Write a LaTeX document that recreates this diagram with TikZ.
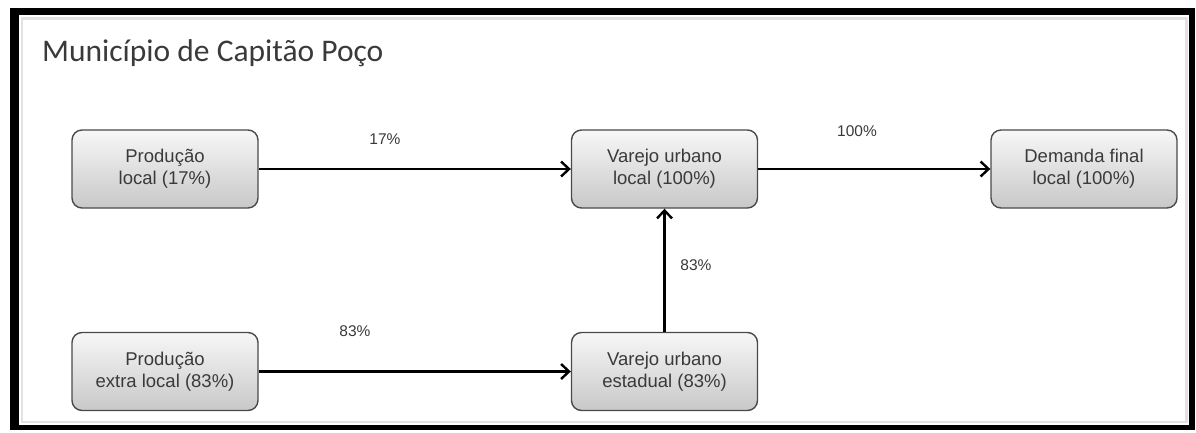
\documentclass[tikz,border=0pt]{standalone}
\usepackage{fontspec}
\setmainfont{Liberation Sans}
\newfontfamily\titlefont{Carlito}
\usetikzlibrary{arrows.meta}

\definecolor{boxedge}{HTML}{4A4A4A}
\definecolor{boxtop}{HTML}{F7F7F7}
\definecolor{boxbottom}{HTML}{C8C8C8}
\definecolor{inktext}{HTML}{3A3A3A}
\definecolor{rimgray}{HTML}{E2E2E2}

\tikzset{
  flowbox/.style={draw=boxedge, line width=1.4pt, rounded corners=10pt,
    top color=boxtop, bottom color=boxbottom,
    minimum width=186pt, minimum height=78pt, inner sep=0pt,
    align=center, text=inktext,
    font=\fontsize{18.5}{22}\selectfont},
  flow/.style={line width=2.6pt, black,
    -{Straight Barb[length=8pt,width=15pt,line width=2.4pt]}},
  share/.style={text=inktext, font=\fontsize{15.5}{17}\selectfont, inner sep=0pt}
}

\begin{document}
\begin{tikzpicture}[x=1pt,y=-1pt]
  \useasboundingbox (0,0) rectangle (1196,432);
  \fill[white] (0,0) rectangle (1196,432);

  % black outer frame with pale inner rim
  \fill[black] (10,8) rectangle (1195,430);
  \fill[white] (19,15) rectangle (1189,425);
  \draw[rimgray, line width=2.5pt] (22,18.5) rectangle (1186.5,422);

  % heading
  \node[anchor=base west, inner sep=0pt, text=inktext,
        font=\titlefont\fontsize{31.5}{34}\selectfont] (title) at (42,61)
        {Município de Capitão Poço};

  % stages of the flow
  \node[flowbox] (pl) at (165,169)   {Produção\\local (17\%)};
  \node[flowbox] (vl) at (664.5,169) {Varejo urbano\\local (100\%)};
  \node[flowbox] (df) at (1084,169)  {Demanda final\\local (100\%)};
  \node[flowbox] (pe) at (165,371.5) {Produção\\extra local (83\%)};
  \node[flowbox] (ve) at (664.5,371.5) {Varejo urbano\\estadual (83\%)};

  % connectors
  \draw[flow] (pl.east) -- (vl.west);
  \draw[flow] (vl.east) -- (df.west);
  \draw[flow] (pe.east) -- (ve.west);
  \draw[flow] (ve.north) -- (vl.south);

  % flow shares
  \node[share] (s1) at (385,139) {17\%};
  \node[share] (s2) at (857,131) {100\%};
  \node[share] (s3) at (355,331) {83\%};
  \node[share] (s4) at (696,265) {83\%};
\end{tikzpicture}
\end{document}
